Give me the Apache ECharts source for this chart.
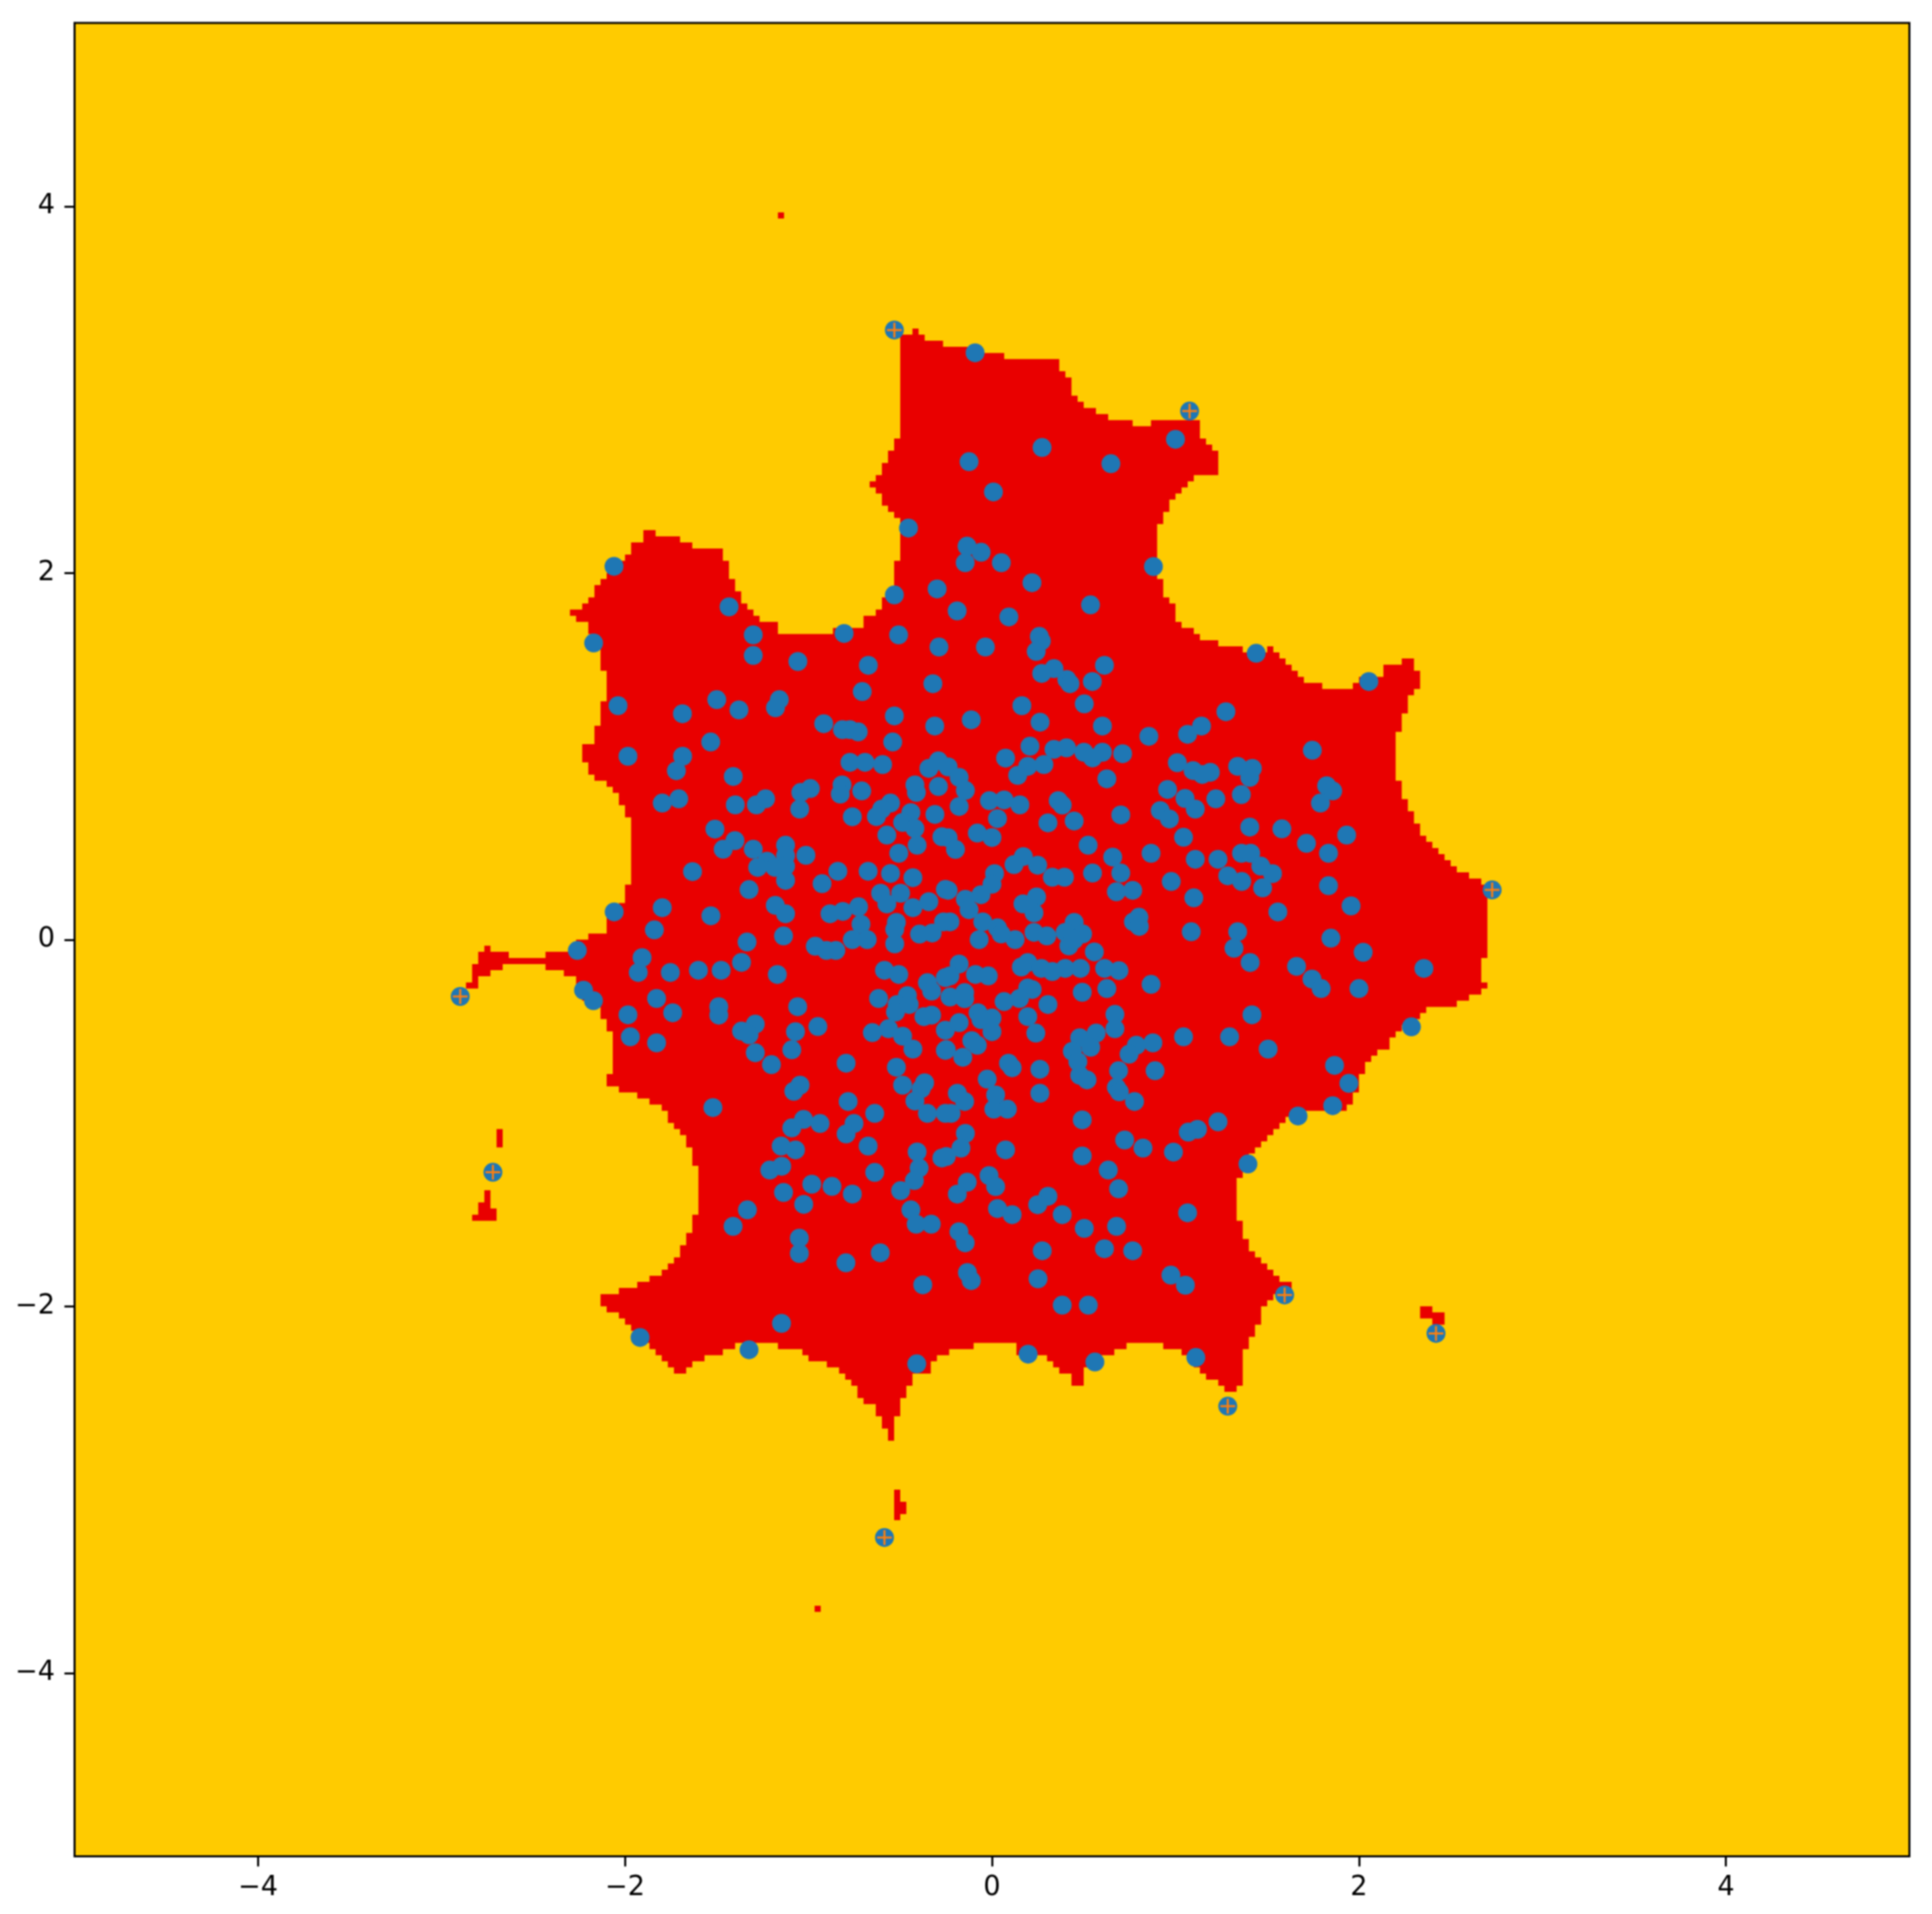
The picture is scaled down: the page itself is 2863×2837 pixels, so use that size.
<!DOCTYPE html>
<html>
<head>
<meta charset="utf-8">
<style>html,body{margin:0;padding:0;background:#fff}#c{width:2863px;height:2837px}#c canvas{filter:blur(0.8px)}</style>
<script src="https://cdn.jsdelivr.net/npm/echarts@6/dist/echarts.min.js"></script>
</head>
<body>
<div id="c"></div>
<script>
const tickValues = [-4, -2, 0, 2, 4];

const crossPoints = [[-0.532,3.325],[1.077,2.883],[-2.898,-0.31],[-2.72,-1.269],[2.726,0.271],[1.595,-1.938],[1.285,-2.545],[2.42,-2.148],[-0.586,-3.261]];

const topPoints = [[-0.092,3.201],[-0.125,2.607],[0.008,2.442],[-0.455,2.245],[-0.136,2.146],[-0.059,2.113],[-0.146,2.056],[0.051,2.056],[-2.06,2.036],[-1.433,1.815],[-2.171,1.618],[-0.299,1.913],[-0.19,1.793],[-0.532,1.88],[0.092,1.76],[-1.301,1.662],[-0.806,1.67],[-0.509,1.662],[-0.289,1.596],[-0.036,1.596],[-1.301,1.55],[-1.058,1.517],[-0.674,1.496],[-0.322,1.396],[-0.707,1.353],[-2.038,1.276],[-1.687,1.232],[-1.5,1.309],[-1.379,1.253],[-1.159,1.309],[-1.18,1.265],[-0.917,1.178],[-0.532,1.22],[-0.312,1.165],[-0.113,1.199],[-0.815,1.145],[-0.774,1.145],[-0.729,1.133],[-0.541,1.078],[-1.533,1.078],
[0.273,2.684],[0.648,2.596],[1.0,2.729],[0.88,2.035],[0.218,1.947],[0.537,1.826],[0.258,1.654],[0.269,1.629],[0.241,1.572],[0.613,1.496],[0.338,1.478],[0.271,1.452],[0.408,1.419],[0.425,1.396],[0.547,1.408],[1.44,1.562],[2.054,1.408],[0.503,1.286],[0.163,1.276],[1.275,1.243],[0.262,1.186],[0.602,1.165],[1.142,1.165],[1.066,1.12],[0.855,1.109],[0.207,1.055],[0.338,1.038],[0.406,1.046],[0.501,1.022],[0.602,1.022],[0.712,1.014],[1.746,1.033],[0.074,0.99],[1.01,0.965]];

const leftPoints = [[-1.984,1.0],[-1.686,1.0],[-1.72,0.921],[-1.41,0.89],[-0.774,0.967],[-0.692,0.967],[-0.596,0.955],[-0.344,0.934],[-0.292,0.975],[-1.797,0.745],[-1.707,0.768],[-1.399,0.735],[-1.284,0.735],[-1.234,0.768],[-0.99,0.824],[-1.042,0.803],[-1.048,0.712],[-0.817,0.844],[-0.827,0.794],[-0.71,0.811],[-0.42,0.844],[-0.412,0.803],[-0.292,0.835],[-0.553,0.745],[-0.601,0.712],[-0.63,0.671],[-0.761,0.67],[-0.442,0.693],[-0.487,0.639],[-0.42,0.606],[-0.311,0.683],[-0.573,0.57],[-0.408,0.515],[-0.508,0.471],[-0.273,0.561],[-1.51,0.603],[-1.401,0.54],[-1.465,0.493],[-1.301,0.493],[-1.125,0.515],[-1.125,0.458],[-1.014,0.46],[-1.226,0.428],[-1.277,0.394],[-1.183,0.394],[-1.125,0.401],[-1.125,0.323],[-1.632,0.371],[-0.84,0.373],[-0.926,0.305],[-0.675,0.373],[-0.553,0.361],[-0.431,0.338],[-1.324,0.273],[-0.607,0.253],[-0.573,0.195],[-0.498,0.253],[-0.344,0.207],[-0.431,0.174],[-0.254,0.274],[-2.059,0.151],[-1.797,0.174],[-1.532,0.13],[-1.181,0.187],[-1.125,0.141],[-0.883,0.141],[-0.813,0.154],[-0.727,0.179],[-0.714,0.084],[-0.521,0.094],[-0.53,0.056],[-0.53,-0.023],[-0.395,0.03],[-0.326,0.036],[-1.84,0.053],[-0.264,0.097],[-1.136,0.02],[-1.335,-0.013],[-0.761,0.0],[-0.68,0.0],[-0.963,-0.036],[-0.902,-0.059],[-0.851,-0.059],[-2.26,-0.059],[-1.907,-0.098],[-1.928,-0.179],[-1.365,-0.124],[-1.753,-0.179],[-1.6,-0.167],[-1.476,-0.167],[-1.17,-0.19],[-0.586,-0.167],[-0.508,-0.19],[-0.352,-0.235],[-0.329,-0.281],[-0.254,-0.207],[-2.226,-0.276],[-2.172,-0.333],[-1.828,-0.321],[-1.74,-0.399],[-1.984,-0.41],[-1.489,-0.366],[-1.489,-0.412],[-1.059,-0.366],[-0.618,-0.321],[-0.461,-0.305],[-0.517,-0.354],[-0.526,-0.395],[-0.451,-0.354],[-0.371,-0.42],[-0.329,-0.412],[-0.254,-0.494],[-1.29,-0.461],[-1.365,-0.499],[-1.324,-0.519],[-1.071,-0.502],[-1.091,-0.601],[-0.949,-0.474],[-0.652,-0.507],[-0.564,-0.486],[-0.487,-0.527],[-0.431,-0.597],[-1.971,-0.53],[-1.828,-0.563],[-1.29,-0.617],[-1.202,-0.682],[-0.795,-0.674],[-0.521,-0.696],[-0.254,-0.604],[-1.046,-0.794],[-1.08,-0.827],[-0.487,-0.794],[-0.367,-0.781],[-0.386,-0.814],[-0.42,-0.88],[-0.352,-0.948],[-1.521,-0.916],[-0.784,-0.883],[-0.639,-0.948],[-0.254,-0.948],[-1.027,-0.981],[-1.091,-1.027],[-0.937,-1.003],[-0.752,-1.003],[-0.795,-1.06],[-0.675,-1.126],[-1.149,-1.126],[-1.071,-1.147],[-0.408,-1.158],[-0.397,-1.246],[-0.423,-1.314],[-0.498,-1.369],[-0.273,-1.191],[-1.146,-1.236],[-1.211,-1.257],[-0.639,-1.27],[-1.136,-1.379],[-0.982,-1.334],[-0.872,-1.346],[-0.761,-1.388],[-1.026,-1.444],[-1.333,-1.474],[-0.442,-1.474]];

const rightPoints = [[0.548,0.991],[0.195,0.945],[0.283,0.955],[0.14,0.896],[-0.239,0.942],[-0.179,0.885],[-0.145,0.814],[-0.179,0.726],[0.626,0.877],[1.096,0.922],[1.146,0.901],[1.19,0.913],[1.339,0.945],[1.419,0.934],[1.405,0.885],[1.359,0.791],[0.957,0.819],[1.052,0.77],[1.108,0.712],[1.22,0.768],[1.824,0.839],[1.857,0.811],[1.79,0.745],[-0.014,0.758],[0.066,0.762],[0.152,0.735],[0.361,0.758],[0.383,0.734],[0.03,0.66],[0.305,0.637],[0.448,0.647],[0.702,0.68],[0.917,0.704],[0.967,0.658],[1.405,0.614],[1.58,0.604],[-0.08,0.581],[0.0,0.557],[-0.239,0.556],[-0.199,0.492],[1.933,0.57],[1.714,0.525],[1.834,0.471],[1.044,0.558],[0.524,0.515],[0.658,0.45],[0.702,0.363],[0.867,0.471],[1.108,0.438],[1.232,0.438],[1.36,0.471],[1.41,0.471],[1.465,0.401],[1.529,0.36],[1.285,0.348],[1.361,0.317],[1.475,0.282],[0.171,0.453],[0.12,0.409],[0.249,0.406],[0.014,0.36],[0.329,0.34],[0.395,0.34],[0.548,0.363],[0.977,0.317],[0.678,0.261],[0.767,0.269],[1.834,0.294],[1.1,0.228],[1.957,0.184],[1.558,0.151],[-0.239,0.269],[0.0,0.302],[-0.06,0.245],[-0.145,0.22],[-0.125,0.163],[0.243,0.233],[0.169,0.195],[0.229,0.146],[0.801,0.122],[0.771,0.097],[0.803,0.072],[-0.229,0.097],[-0.05,0.097],[0.03,0.064],[0.126,0.0],[-0.07,0.0],[0.05,0.031],[0.229,0.04],[0.299,0.02],[0.448,0.094],[0.399,0.04],[0.494,0.031],[0.419,-0.034],[0.448,0.0],[0.558,-0.067],[1.086,0.043],[1.339,0.043],[1.319,-0.047],[1.407,-0.125],[1.847,0.008],[2.023,-0.069],[2.354,-0.157],[1.66,-0.146],[1.744,-0.215],[1.794,-0.267],[2.0,-0.267],[0.867,-0.244],[-0.179,-0.133],[-0.229,-0.198],[-0.09,-0.19],[-0.02,-0.198],[0.195,-0.125],[0.16,-0.149],[0.269,-0.157],[0.329,-0.174],[0.399,-0.157],[0.482,-0.157],[0.614,-0.157],[0.692,-0.169],[0.626,-0.267],[0.492,-0.287],[0.195,-0.264],[0.219,-0.272],[0.15,-0.321],[0.066,-0.338],[-0.149,-0.289],[-0.229,-0.313],[-0.149,-0.322],[0.305,-0.354],[-0.076,-0.399],[0.0,-0.428],[-0.06,-0.436],[0.0,-0.502],[-0.179,-0.453],[0.195,-0.42],[0.239,-0.51],[0.67,-0.408],[0.67,-0.486],[1.417,-0.41],[0.568,-0.51],[0.478,-0.535],[0.538,-0.587],[0.438,-0.609],[0.468,-0.666],[0.478,-0.74],[0.518,-0.765],[0.787,-0.576],[0.747,-0.625],[0.877,-0.563],[0.69,-0.715],[0.678,-0.806],[0.694,-0.83],[0.777,-0.883],[1.044,-0.53],[1.295,-0.53],[1.505,-0.597],[2.286,-0.476],[-0.11,-0.551],[-0.08,-0.576],[-0.159,-0.642],[-0.249,-0.6],[0.09,-0.674],[0.11,-0.699],[0.261,-0.707],[0.261,-0.838],[0.889,-0.715],[1.867,-0.686],[1.945,-0.784],[-0.026,-0.761],[-0.189,-0.838],[-0.149,-0.883],[-0.223,-0.948],[0.02,-0.847],[0.01,-0.925],[0.084,-0.925],[1.857,-0.906],[1.668,-0.962],[0.492,-0.983],[1.232,-0.994],[1.07,-1.05],[1.12,-1.035],[-0.145,-1.057],[-0.169,-1.137],[0.074,-1.147],[0.723,-1.093],[0.823,-1.137],[0.989,-1.159],[0.492,-1.18],[1.395,-1.224],[-0.249,-1.183],[0.634,-1.257],[0.69,-1.359],[-0.016,-1.287],[0.02,-1.347],[-0.135,-1.323],[-0.189,-1.388],[0.305,-1.4],[0.249,-1.446],[0.03,-1.467],[0.11,-1.5],[0.383,-1.5],[1.066,-1.49]];

const bottomPoints = [[-1.411,-1.564],[-0.413,-1.552],[-0.331,-1.552],[-0.18,-1.593],[-0.146,-1.654],[-1.05,-1.628],[-1.05,-1.712],[-0.796,-1.763],[-0.609,-1.708],[-0.377,-1.883],[-0.134,-1.816],[-0.113,-1.86],[-1.147,-2.093],[-1.918,-2.17],[-1.324,-2.237],[-0.41,-2.314],[0.503,-1.575],[0.679,-1.564],[0.274,-1.697],[0.613,-1.686],[0.767,-1.697],[0.251,-1.85],[0.975,-1.83],[1.054,-1.885],[0.383,-1.994],[0.525,-1.994],[0.197,-2.261],[0.561,-2.304],[1.111,-2.279]];

const mainRegion = [[-0.512,3.246],[-0.512,3.303],[-0.43,3.328],[-0.413,3.295],[-0.364,3.27],[-0.274,3.262],[-0.266,3.238],[-0.159,3.233],[-0.134,3.205],[0.046,3.2],[0.054,3.18],[0.342,3.18],[0.363,3.21],[0.378,3.09],[0.412,3.073],[0.437,2.975],[0.532,2.885],[0.648,2.844],[0.659,2.819],[0.775,2.816],[0.786,2.786],[0.849,2.786],[0.859,2.819],[0.975,2.822],[0.997,2.849],[1.113,2.844],[1.134,2.762],[1.165,2.696],[1.218,2.655],[1.229,2.606],[1.254,2.593],[1.218,2.548],[1.159,2.54],[1.102,2.51],[0.986,2.4],[0.965,2.335],[0.923,2.277],[0.902,2.187],[0.891,2.097],[0.912,1.982],[0.923,1.892],[0.954,1.826],[0.986,1.777],[1.102,1.654],[1.218,1.613],[1.229,1.588],[1.334,1.585],[1.387,1.555],[1.503,1.588],[1.598,1.498],[1.651,1.44],[1.703,1.411],[1.788,1.408],[1.798,1.383],[1.957,1.383],[1.978,1.411],[2.105,1.44],[2.147,1.498],[2.21,1.503],[2.242,1.534],[2.284,1.498],[2.294,1.47],[2.353,1.457],[2.32,1.383],[2.294,1.317],[2.263,1.268],[2.235,1.145],[2.21,1.129],[2.208,0.877],[2.236,0.86],[2.242,0.762],[2.272,0.696],[2.302,0.63],[2.332,0.573],[2.531,0.368],[2.611,0.335],[2.69,0.286],[2.72,0.22],[2.69,0.179],[2.684,-0.1],[2.66,-0.125],[2.66,-0.231],[2.686,-0.256],[2.67,-0.313],[2.541,-0.322],[2.521,-0.354],[2.441,-0.363],[2.392,-0.379],[2.372,-0.412],[2.292,-0.436],[2.152,-0.584],[2.063,-0.666],[2.043,-0.715],[2.013,-0.781],[1.963,-0.855],[1.957,-0.888],[1.923,-0.926],[1.734,-0.926],[1.584,-0.986],[1.455,-1.126],[1.355,-1.257],[1.345,-1.315],[1.345,-1.545],[1.37,-1.56],[1.373,-1.636],[1.401,-1.651],[1.43,-1.75],[1.552,-1.872],[1.589,-1.88],[1.636,-1.926],[1.542,-1.956],[1.467,-2.032],[1.458,-2.086],[1.43,-2.101],[1.42,-2.154],[1.402,-2.162],[1.398,-2.238],[1.373,-2.246],[1.37,-2.444],[1.326,-2.482],[1.264,-2.482],[1.251,-2.429],[1.148,-2.33],[1.045,-2.246],[0.951,-2.238],[0.942,-2.208],[0.745,-2.208],[0.735,-2.238],[0.679,-2.246],[0.67,-2.273],[0.613,-2.276],[0.51,-2.36],[0.501,-2.421],[0.439,-2.421],[0.439,-2.36],[0.388,-2.356],[0.313,-2.269],[0.154,-2.261],[0.135,-2.215],[-0.1,-2.215],[-0.1,-2.238],[-0.208,-2.243],[-0.217,-2.269],[-0.274,-2.273],[-0.348,-2.36],[-0.413,-2.383],[-0.43,-2.444],[-0.479,-2.49],[-0.504,-2.596],[-0.545,-2.612],[-0.548,-2.749],[-0.578,-2.749],[-0.578,-2.665],[-0.602,-2.657],[-0.61,-2.604],[-0.63,-2.596],[-0.635,-2.543],[-0.725,-2.475],[-0.733,-2.421],[-0.783,-2.414],[-0.848,-2.337],[-0.914,-2.299],[-1.021,-2.269],[-1.029,-2.241],[-1.168,-2.238],[-1.18,-2.208],[-1.316,-2.205],[-1.464,-2.238],[-1.472,-2.269],[-1.562,-2.276],[-1.57,-2.299],[-1.62,-2.307],[-1.661,-2.36],[-1.702,-2.36],[-1.858,-2.2],[-1.973,-2.093],[-2.022,-2.032],[-2.071,-2.025],[-2.129,-1.956],[-2.129,-1.944],[-2.046,-1.938],[-2.035,-1.911],[-1.956,-1.907],[-1.948,-1.883],[-1.891,-1.872],[-1.882,-1.85],[-1.833,-1.842],[-1.694,-1.697],[-1.677,-1.644],[-1.653,-1.587],[-1.625,-1.575],[-1.62,-1.491],[-1.595,-1.484],[-1.596,-1.224],[-1.624,-1.216],[-1.633,-1.134],[-1.652,-1.126],[-1.662,-1.076],[-1.708,-1.044],[-1.727,-0.986],[-1.774,-0.937],[-1.859,-0.871],[-1.924,-0.839],[-2.009,-0.83],[-2.018,-0.806],[-2.102,-0.801],[-2.106,-0.724],[-2.074,-0.712],[-2.074,-0.51],[-2.102,-0.502],[-2.106,-0.428],[-2.131,-0.412],[-2.14,-0.371],[-2.224,-0.305],[-2.281,-0.215],[-2.337,-0.198],[-2.346,-0.174],[-2.431,-0.166],[-2.435,-0.138],[-2.665,-0.141],[-2.675,-0.166],[-2.731,-0.182],[-2.74,-0.203],[-2.787,-0.215],[-2.815,-0.256],[-2.872,-0.256],[-2.844,-0.182],[-2.825,-0.166],[-2.815,-0.092],[-2.791,-0.075],[-2.783,-0.026],[-2.74,-0.026],[-2.722,-0.056],[-2.647,-0.059],[-2.637,-0.089],[-2.435,-0.089],[-2.427,-0.056],[-2.309,-0.056],[-2.224,0.007],[-2.215,0.04],[-2.159,0.048],[-2.112,0.097],[-2.074,0.154],[-2.018,0.212],[-2.009,0.302],[-1.984,0.315],[-1.98,0.417],[-1.958,0.43],[-1.958,0.532],[-1.98,0.548],[-1.98,0.68],[-2.009,0.696],[-2.018,0.753],[-2.046,0.803],[-2.187,0.95],[-2.253,0.967],[-2.253,0.983],[-2.224,1.0],[-2.219,1.063],[-2.161,1.088],[-2.161,1.17],[-2.129,1.178],[-2.129,1.284],[-2.104,1.301],[-2.107,1.465],[-2.129,1.477],[-2.132,1.613],[-2.186,1.695],[-2.202,1.719],[-2.276,1.777],[-2.284,1.81],[-2.112,1.99],[-1.964,2.13],[-1.948,2.182],[-1.882,2.253],[-1.858,2.22],[-1.8,2.212],[-1.792,2.187],[-1.718,2.184],[-1.707,2.159],[-1.628,2.154],[-1.62,2.13],[-1.48,2.13],[-1.472,2.072],[-1.447,2.056],[-1.439,1.957],[-1.415,1.941],[-1.406,1.892],[-1.362,1.859],[-1.349,1.793],[-1.275,1.772],[-1.226,1.719],[-1.177,1.711],[-1.165,1.678],[-1.078,1.678],[-1.07,1.654],[-0.881,1.654],[-0.873,1.687],[-0.725,1.711],[-0.684,1.772],[-0.61,1.801],[-0.602,1.859],[-0.52,1.957],[-0.517,2.064],[-0.484,2.077],[-0.484,2.187],[-0.512,2.302],[-0.545,2.31],[-0.553,2.368],[-0.581,2.376],[-0.586,2.433],[-0.635,2.466],[-0.668,2.499],[-0.61,2.548],[-0.602,2.606],[-0.577,2.614],[-0.569,2.671],[-0.545,2.679],[-0.537,2.729],[-0.512,2.737],[-0.512,2.844],[-0.484,2.852],[-0.484,3.229]];

const lowerLeftIsland = [[-2.759,-1.377],[-2.728,-1.377],[-2.728,-1.475],[-2.698,-1.5],[-2.698,-1.549],[-2.753,-1.549],[-2.759,-1.518],[-2.82,-1.518],[-2.82,-1.494],[-2.789,-1.475],[-2.789,-1.432],[-2.759,-1.426]];
const upperLeftIsland = [[-2.703,-1.044],[-2.668,-1.044],[-2.668,-1.134],[-2.703,-1.134]];
const bottomIsland = [[-0.545,-2.993],[-0.52,-2.993],[-0.512,-3.039],[-0.487,-3.054],[-0.479,-3.107],[-0.454,-3.122],[-0.512,-3.176],[-0.553,-3.214],[-0.586,-3.214],[-0.578,-3.176],[-0.548,-3.153]];
const rightIsland = [[2.33,-2.002],[2.377,-1.999],[2.396,-2.032],[2.443,-2.04],[2.477,-2.071],[2.462,-2.101],[2.386,-2.101],[2.386,-2.063],[2.339,-2.032]];
const topDot = [[-1.17,3.967],[-1.137,3.967],[-1.137,3.934],[-1.17,3.934]];
const lowDot = [[-0.967,-3.62],[-0.934,-3.62],[-0.934,-3.653],[-0.967,-3.653]];

const regions = [mainRegion, lowerLeftIsland, upperLeftIsland, bottomIsland, rightIsland, topDot, lowDot];
const points = topPoints.concat(leftPoints, rightPoints, bottomPoints, crossPoints);

// The decision surface is a sampled grid, so its outline is drawn as grid steps.
const cell = 1 / 30;
function snap(v) { return Math.round(v / cell) * cell; }
function stepped(poly) {
  const out = [];
  for (let i = 0; i < poly.length; i++) {
    const a = poly[i], b = poly[(i + 1) % poly.length];
    const n = Math.max(1, Math.round(Math.max(Math.abs(b[0] - a[0]), Math.abs(b[1] - a[1])) / cell));
    let py = snap(a[1]);
    for (let k = 1; k <= n; k++) {
      const x = snap(a[0] + (b[0] - a[0]) * k / n), y = snap(a[1] + (b[1] - a[1]) * k / n);
      out.push([x, py], [x, y]);
      py = y;
    }
  }
  return out;
}

const axisFont = { fontFamily: 'DejaVu Sans', fontSize: 40, color: '#000' };
const fmt = v => String(v).replace('-', '\u2212');
const axisBase = {
  type: 'value', min: -5, max: 5, splitLine: { show: false },
  axisLine: { show: true, onZero: false, lineStyle: { color: '#000', width: 3 } },
  axisTick: { show: true, length: 15, customValues: tickValues, lineStyle: { color: '#000', width: 3 } }
};

const chart = echarts.init(document.getElementById('c'), null, { renderer: 'canvas', width: 2863, height: 2837 });
chart.setOption({
  animation: false,
  backgroundColor: '#fff',
  grid: { left: 110.5, right: 33.5, top: 34, bottom: 85.5, show: true, backgroundColor: '#ffcb00', borderColor: '#000', borderWidth: 3 },
  xAxis: Object.assign({}, axisBase, { axisLabel: Object.assign({ margin: 27, formatter: fmt, customValues: tickValues, hideOverlap: false }, axisFont) }),
  yAxis: Object.assign({}, axisBase, { axisLabel: Object.assign({ margin: 29, formatter: fmt, customValues: tickValues, hideOverlap: false }, axisFont) }),
  series: [
    {
      type: 'custom', silent: true, z: 1, coordinateSystem: 'cartesian2d',
      data: regions.map((r, i) => [r[0][0], r[0][1], i]),
      renderItem: (params, api) => ({
        type: 'polygon',
        shape: { points: stepped(regions[params.dataIndex]).map(p => api.coord(p)) },
        style: { fill: '#e90000', stroke: null }
      })
    },
    { type: 'scatter', z: 2, silent: true, symbol: 'circle', symbolSize: 28, itemStyle: { color: '#1f77b4', opacity: 1 }, data: points },
    { type: 'scatter', z: 3, silent: true, symbol: 'path://M0 9.5H9.5V0H12.5V9.5H22V12.5H12.5V22H9.5V12.5H0Z', symbolSize: 22, itemStyle: { color: '#ff7f0e', opacity: 1 }, data: crossPoints }
  ]
});
</script>
</body>
</html>
